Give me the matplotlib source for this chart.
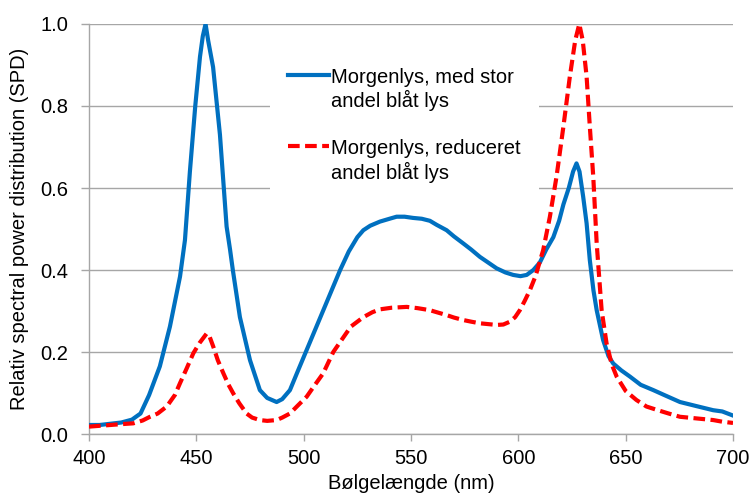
import matplotlib
matplotlib.use('Agg')
import matplotlib.pyplot as plt

# wavelengths (nm) and relative SPD
wl_blue = [400, 405, 410, 415, 420, 424, 428, 433, 437.7, 442.4, 444.7, 447,
           449.5, 451.7, 453, 454.3, 455.5, 457.8, 461, 464.1, 465.7, 467,
           470.3, 475, 479.6, 483, 487.4, 490, 493.6, 497, 501, 505, 509, 513,
           517, 521, 525, 527.8, 531, 535.5, 540, 543.3, 547, 551, 555, 558.8,
           562, 566.6, 570, 574.3, 578, 582.1, 586, 589.9, 594, 597.6, 601,
           603.9, 607, 610, 613, 616.3, 619, 621, 623.5, 625.5, 627.1, 628.5,
           630.2, 631.8, 633.3, 635, 636.5, 639.5, 642, 644.2, 648, 652, 657,
           662.9, 668, 675.3, 683, 690.8, 695, 700]
spd_blue = [0.022, 0.022, 0.025, 0.028, 0.035, 0.05, 0.095, 0.165, 0.262, 0.384,
            0.473, 0.64, 0.80, 0.92, 0.97, 1.0, 0.96, 0.895, 0.73, 0.506, 0.45,
            0.40, 0.285, 0.18, 0.107, 0.088, 0.078, 0.085, 0.107, 0.15, 0.20,
            0.25, 0.30, 0.35, 0.40, 0.445, 0.48, 0.497, 0.508, 0.518, 0.525,
            0.53, 0.53, 0.527, 0.525, 0.52, 0.51, 0.497, 0.482, 0.465, 0.45,
            0.432, 0.418, 0.404, 0.394, 0.388, 0.385, 0.388, 0.40, 0.418, 0.45,
            0.48, 0.52, 0.56, 0.60, 0.64, 0.66, 0.64, 0.579, 0.514, 0.424, 0.35,
            0.302, 0.229, 0.19, 0.172, 0.155, 0.14, 0.12, 0.107, 0.095, 0.078,
            0.068, 0.058, 0.055, 0.045]

wl_red = [400, 405, 410, 415, 420.6, 425, 428.4, 432, 436.2, 440, 442.4, 445.5,
          448.6, 451.5, 454.8, 456, 457.9, 460, 462.6, 465, 467.2, 470, 473.4,
          476, 479.6, 483, 487.4, 490, 493.6, 497, 501.4, 505, 509.1, 513.8,
          518.4, 522, 527.8, 532, 535.5, 541, 548, 553, 558.8, 562, 566.6, 570,
          574.3, 578, 582.1, 586, 589.9, 593, 596.1, 598.5, 600.7, 603, 605.4,
          608, 611.6, 614.7, 617.8, 621, 624, 626.5, 628.4, 630, 631.8, 633.3,
          634.9, 636.5, 638.8, 641.1, 643.5, 645.8, 650, 655, 659.7, 664.4, 670,
          675.3, 683, 690.8, 695, 700]
spd_red = [0.018, 0.02, 0.022, 0.024, 0.026, 0.033, 0.042, 0.05, 0.067, 0.095,
           0.124, 0.16, 0.197, 0.222, 0.245, 0.24, 0.213, 0.18, 0.148, 0.12,
           0.099, 0.075, 0.05, 0.04, 0.034, 0.032, 0.034, 0.04, 0.05, 0.068,
           0.091, 0.118, 0.148, 0.20, 0.235, 0.262, 0.285, 0.297, 0.304, 0.308,
           0.31, 0.307, 0.302, 0.297, 0.29, 0.284, 0.278, 0.274, 0.27, 0.268,
           0.266, 0.267, 0.274, 0.285, 0.302, 0.325, 0.351, 0.385, 0.449, 0.53,
           0.628, 0.75, 0.872, 0.96, 1.0, 0.96, 0.872, 0.75, 0.628, 0.465,
           0.302, 0.221, 0.17, 0.14, 0.105, 0.083, 0.067, 0.059, 0.05, 0.042,
           0.038, 0.034, 0.03, 0.027]

label_blue = 'Morgenlys, med stor\nandel blåt lys'
label_red = 'Morgenlys, reduceret\nandel blåt lys'
xticks = [400, 450, 500, 550, 600, 650, 700]
yticks = [0.0, 0.2, 0.4, 0.6, 0.8, 1.0]

plt.rcParams['font.family'] = ['Liberation Sans', 'DejaVu Sans']
fs = 14.5
grey = '#a6a6a6'

fig = plt.figure(figsize=(7.51, 4.98), dpi=100)
ax = fig.add_axes([89/751, 64/498, 644/751, 410/498])

ax.plot(wl_blue, spd_blue, c='#0070c0', lw=3.0, label=label_blue, zorder=3)
ax.plot(wl_red, spd_red, c='#ff0000', lw=3.0, ls=(0, (2.8, 1.3)),
        label=label_red, zorder=4)

ax.set_xlim(400, 700)
ax.set_ylim(0, 1.0)
ax.set_xticks(xticks)
ax.set_yticks(yticks)
ax.set_yticklabels(['{:.1f}'.format(v) for v in yticks])
ax.tick_params(labelsize=fs, colors='black', length=6, width=1)
ax.tick_params(axis='both', color=grey)
ax.tick_params(axis='y', pad=9)
ax.tick_params(axis='x', length=5, pad=6)

ax.grid(True, axis='y', color=grey, lw=1)
ax.set_axisbelow(True)
for s in ['top', 'right']:
    ax.spines[s].set_visible(False)
for s in ['left', 'bottom']:
    ax.spines[s].set_color(grey)
    ax.spines[s].set_linewidth(1)

ax.set_xlabel('Bølgelængde (nm)', fontsize=fs, labelpad=4)
ax.set_ylabel('Relativ spectral power distribution (SPD)', fontsize=fs,
              labelpad=8)

leg = ax.legend(loc='upper left', bbox_to_anchor=(0.266, 0.962), fontsize=fs,
                frameon=True, fancybox=False, edgecolor='none',
                facecolor='white', framealpha=1, handlelength=2.0,
                handletextpad=0.12, labelspacing=1.4, borderpad=0.9)
leg.set_zorder(5)
# handle next to the first line of each two-line label
for col in leg._legend_handle_box.get_children():
    for row in col.get_children():
        row.align = 'top'

fig.savefig('out.png', dpi=100)
